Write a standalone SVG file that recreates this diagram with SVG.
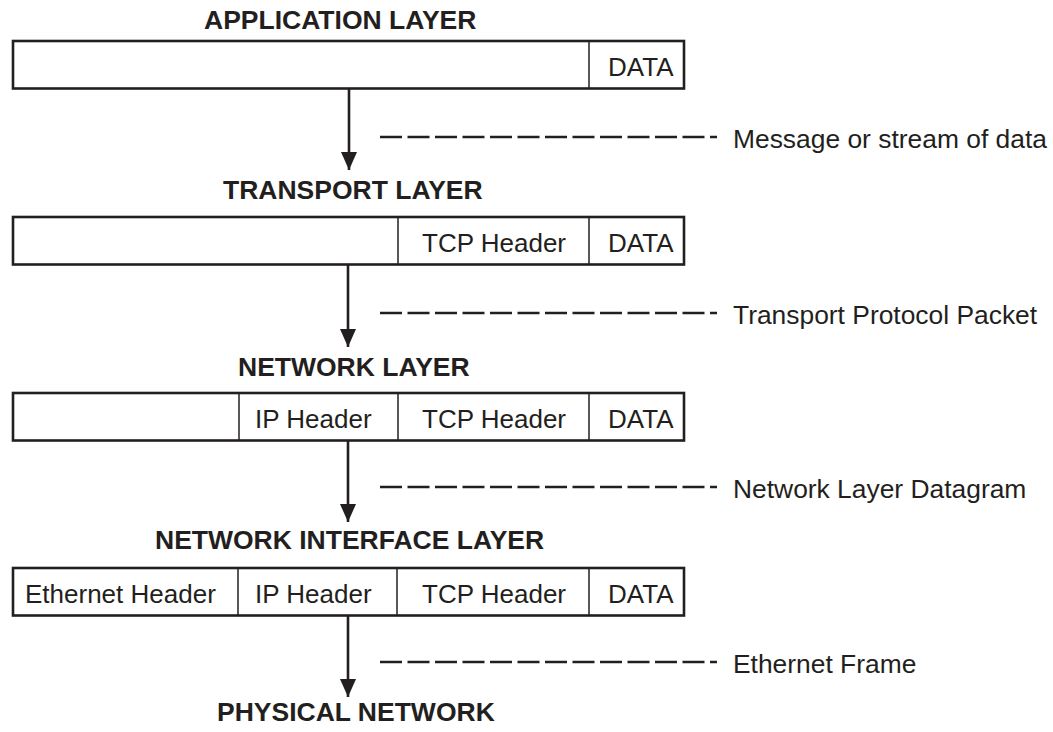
<svg xmlns="http://www.w3.org/2000/svg" width="1053" height="732" viewBox="0 0 1053 732">
<style>
.title{font-family:"Liberation Sans",Arial,sans-serif;font-weight:bold;font-size:26.5px;fill:#231f20}
.cell{font-family:"Liberation Sans",Arial,sans-serif;font-size:26px;fill:#231f20}
.lbl{font-family:"Liberation Sans",Arial,sans-serif;font-size:26.4px;fill:#231f20}
.box{fill:#fff;stroke:#231f20;stroke-width:2.6}
.div{stroke:#231f20;stroke-width:1.5}
.arrow{stroke:#231f20;stroke-width:2.6;fill:none}
.dash{stroke:#231f20;stroke-width:2.4;stroke-dasharray:22 5.5;fill:none}
</style>
<defs>
<marker id="ah" viewBox="0 0 18 16" refX="18" refY="8" markerWidth="18" markerHeight="16" markerUnits="userSpaceOnUse" orient="auto">
<path d="M0,0 L18,8 L0,16 Z" fill="#231f20"/>
</marker>
</defs>
<rect width="1053" height="732" fill="#fff"/>
<g id="application">
<text class="title" x="204" y="29">APPLICATION LAYER</text>
<rect class="box" x="13" y="41" width="671" height="47.5"/>
<line class="div" x1="589" y1="41" x2="589" y2="88.5"/>
<text class="cell" x="608" y="76">DATA</text>
</g>
<g id="transport">
<text class="title" x="223" y="199">TRANSPORT LAYER</text>
<rect class="box" x="13" y="217" width="671" height="47.5"/>
<line class="div" x1="398" y1="217" x2="398" y2="264.5"/>
<line class="div" x1="589" y1="217" x2="589" y2="264.5"/>
<text class="cell" x="422" y="252">TCP Header</text>
<text class="cell" x="608" y="252">DATA</text>
</g>
<g id="network">
<text class="title" x="238" y="376">NETWORK LAYER</text>
<rect class="box" x="13" y="393" width="671" height="47.5"/>
<line class="div" x1="239" y1="393" x2="239" y2="440.5"/>
<line class="div" x1="398" y1="393" x2="398" y2="440.5"/>
<line class="div" x1="589" y1="393" x2="589" y2="440.5"/>
<text class="cell" x="255" y="428">IP Header</text>
<text class="cell" x="422" y="428">TCP Header</text>
<text class="cell" x="608" y="428">DATA</text>
</g>
<g id="interface">
<text class="title" x="155" y="549">NETWORK INTERFACE LAYER</text>
<rect class="box" x="13" y="568" width="671" height="47.5"/>
<line class="div" x1="238" y1="568" x2="238" y2="615.5"/>
<line class="div" x1="397" y1="568" x2="397" y2="615.5"/>
<line class="div" x1="589" y1="568" x2="589" y2="615.5"/>
<text class="cell" x="25" y="603">Ethernet Header</text>
<text class="cell" x="255" y="603">IP Header</text>
<text class="cell" x="422" y="603">TCP Header</text>
<text class="cell" x="608" y="603">DATA</text>
</g>
<g id="physical">
<text class="title" x="217" y="721">PHYSICAL NETWORK</text>
</g>
<g id="connectors">
<line class="arrow" x1="349" y1="89" x2="349" y2="170" marker-end="url(#ah)"/>
<line class="arrow" x1="348" y1="265" x2="348" y2="347" marker-end="url(#ah)"/>
<line class="arrow" x1="348" y1="441" x2="348" y2="522" marker-end="url(#ah)"/>
<line class="arrow" x1="348" y1="616" x2="348" y2="697" marker-end="url(#ah)"/>
<line class="dash" x1="380" y1="137" x2="717" y2="137"/>
<line class="dash" x1="380" y1="313" x2="717" y2="313"/>
<line class="dash" x1="380" y1="487" x2="717" y2="487"/>
<line class="dash" x1="380" y1="662" x2="717" y2="662"/>
<text class="lbl" x="733" y="148">Message or stream of data</text>
<text class="lbl" x="733" y="324">Transport Protocol Packet</text>
<text class="lbl" x="733" y="498">Network Layer Datagram</text>
<text class="lbl" x="733" y="673">Ethernet Frame</text>
</g>
</svg>
